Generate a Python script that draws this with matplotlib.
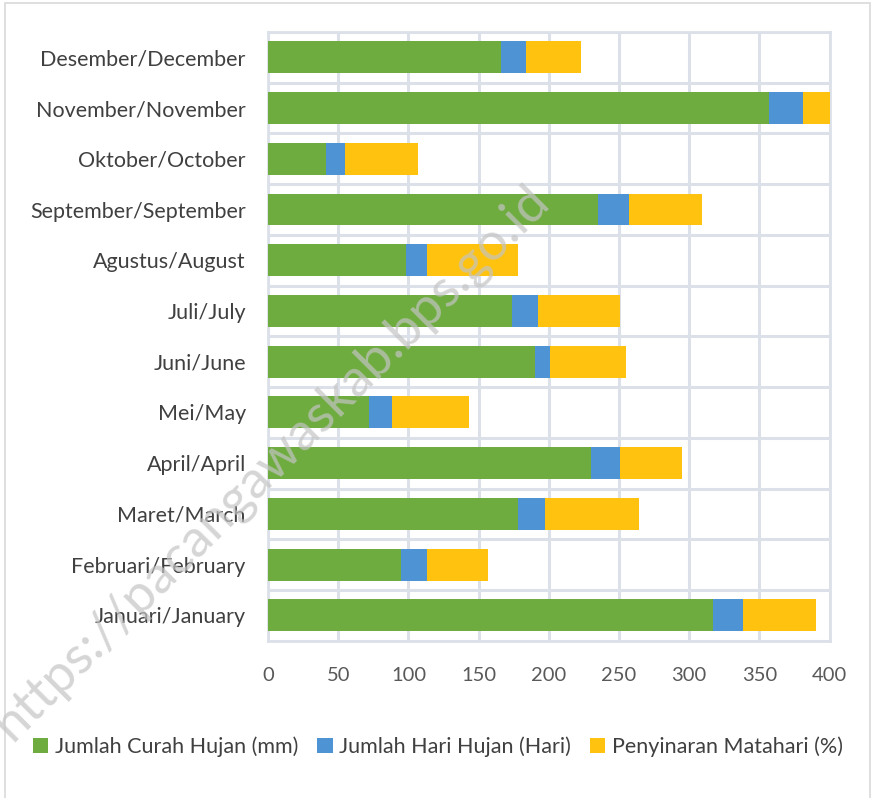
import matplotlib.pyplot as plt
from matplotlib.patches import Rectangle

# data
months = ["Januari/January", "Februari/February", "Maret/March", "April/April",
          "Mei/May", "Juni/June", "Juli/July", "Agustus/August",
          "September/September", "Oktober/October", "November/November",
          "Desember/December"]
curah_hujan = [317, 95, 178, 230, 72, 190, 174, 98, 235, 41, 357, 166]
hari_hujan = [21, 18, 19, 21, 16, 11, 18, 15, 22, 14, 24, 18]
penyinaran = [52, 44, 67, 44, 55, 54, 59, 65, 52, 52, 20, 39]
series_names = ["Jumlah Curah Hujan (mm)", "Jumlah Hari Hujan (Hari)",
                "Penyinaran Matahari (%)"]
xticks = [0, 50, 100, 150, 200, 250, 300, 350, 400]

plt.rcParams['font.family'] = ['Lato', 'DejaVu Sans']

fig = plt.figure(figsize=(8.76, 7.98), dpi=100)
ax = fig.add_axes([0.306, 0.197, 0.641, 0.763])

# outer chart frame
fig.patches.append(Rectangle((0.006, -0.01), 0.987, 1.006, transform=fig.transFigure,
                             fill=False, edgecolor="#D9D9D9", linewidth=1.2))

y = range(len(months))
left2 = [a + b for a, b in zip(curah_hujan, hari_hujan)]
ax.barh(y, curah_hujan, height=0.63, color="#6EAC3F", label=series_names[0], zorder=3)
ax.barh(y, hari_hujan, left=curah_hujan, height=0.63, color="#4E93D4",
        label=series_names[1], zorder=3)
ax.barh(y, penyinaran, left=left2, height=0.63, color="#FFC20E",
        label=series_names[2], zorder=3)

ax.set_xlim(0, 400)
ax.set_ylim(-0.5, len(months) - 0.5)
ax.set_xticks(xticks)
ax.set_yticks(list(y))
ax.set_yticklabels(months)
ax.set_yticks([i + 0.5 for i in range(-1, len(months))], minor=True)

ax.grid(axis="x", color="#DCE0E8", linewidth=2.2, zorder=0)
ax.grid(axis="y", which="minor", color="#DCE0E8", linewidth=2.2, zorder=0)
ax.tick_params(axis="both", which="both", length=0)
ax.tick_params(axis="x", pad=19, labelsize=14.5, labelcolor="#595959")
ax.tick_params(axis="y", pad=16, labelsize=15.5, labelcolor="#404040")
for s in ax.spines.values():
    s.set_color("#DCE0E8")
    s.set_linewidth(2)

leg = fig.legend(loc="center", bbox_to_anchor=(0.5, 0.064), ncol=3, frameon=False,
                 fontsize=15.5, handlelength=0.7, handleheight=0.7, handletextpad=0.3,
                 columnspacing=0.9, labelcolor="#404040")

# watermark
fig.text(0.31, 0.42, "https://pacangawaskab.bps.go.id", rotation=45, fontsize=38,
         color="#C4C4C4", alpha=0.7, ha="center", va="center", zorder=10)

fig.savefig("out.png", dpi=100)
